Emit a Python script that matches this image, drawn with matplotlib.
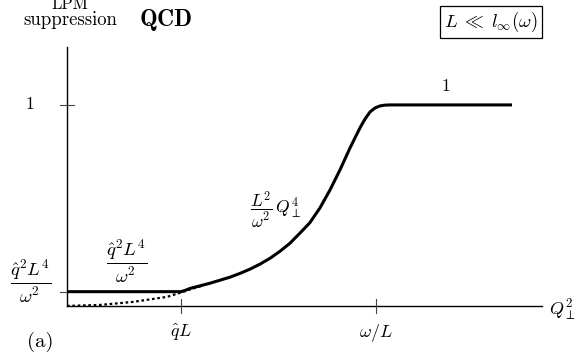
import matplotlib
matplotlib.use("Agg")
from matplotlib import pyplot as plt

plt.rcParams['font.family'] = 'serif'
plt.rcParams['font.serif'] = ['cmr10', 'DejaVu Serif']
plt.rcParams['mathtext.fontset'] = 'cm'
plt.rcParams['axes.unicode_minus'] = False

# solid curve (LPM suppression vs Q_perp^2)
curve_x = [0.0, 0.5, 1.0, 1.14, 1.18, 1.23, 1.33, 1.43, 1.53, 1.63, 1.73, 1.83,
           1.93, 2.03, 2.13, 2.23, 2.36, 2.43, 2.53, 2.63, 2.73, 2.83, 2.93,
           2.98, 3.03, 3.08, 3.13, 3.18, 3.23, 3.30, 3.80, 4.45]
curve_y = [0.071, 0.071, 0.071, 0.071, 0.077, 0.087, 0.100, 0.113, 0.128,
           0.143, 0.162, 0.183, 0.208, 0.237, 0.272, 0.312, 0.378, 0.415,
           0.488, 0.577, 0.677, 0.786, 0.886, 0.930, 0.965, 0.985, 0.995,
           0.999, 1.0, 1.0, 1.0, 1.0]

# dotted continuation of the Q^4 behaviour at small Q
dot_x = [0.0, 0.33, 0.66, 1.0, 1.13, 1.25, 1.35]
dot_y = [0.0, 0.005, 0.02, 0.045, 0.065, 0.085, 0.100]

y_level = 0.071
x_ticks = [1.14, 3.09]
x_labels = [r'$\hat{q}L$', r'$\omega/L$']

fig = plt.figure(figsize=(5.76, 3.6), dpi=100)
ax = fig.add_axes([0, 0, 1, 1])
ax.set_xlim(-0.67, 5.09)
ax.set_ylim(-0.269, 1.522)
ax.axis('off')

# axes
ax.plot([0, 0], [0, 1.29], color='black', lw=1.0)
ax.plot([0, 4.75], [0, 0], color='black', lw=1.0)

# ticks
ax.plot([-0.07, 0.07], [1.0, 1.0], color='#444444', lw=0.8)
ax.plot([-0.07, 0.0], [y_level, y_level], color='#444444', lw=0.8)
for xt, lab in zip(x_ticks, x_labels):
    ax.plot([xt, xt], [-0.035, 0.035], color='#444444', lw=0.8)
    ax.text(xt, -0.134, lab, ha='center', va='center', fontsize=13)

ax.plot(dot_x, dot_y, color='black', lw=1.6, linestyle=(0, (1.2, 1.2)))
ax.plot(curve_x, curve_y, color='black', lw=2.2, solid_capstyle='butt',
        solid_joinstyle='round')

frac = r'$\dfrac{\hat{q}^2L^4}{\omega^2}$'
ax.text(-0.37, 1.005, '1', ha='center', va='center', fontsize=12.5)
ax.text(3.79, 1.09, '1', ha='center', va='center', fontsize=12.5)
ax.text(-0.36, 0.124, frac, ha='center', va='center', fontsize=13.5)
ax.text(0.60, 0.224, frac, ha='center', va='center', fontsize=13.5)
ax.text(2.09, 0.478, r'$\dfrac{L^2}{\omega^2}\,Q_\perp^4$', ha='center',
        va='center', fontsize=12.5)
ax.text(4.95, -0.02, r'$Q_\perp^2$', ha='center', va='center', fontsize=13)
ax.text(-0.27, -0.179, '(a)', ha='center', va='center', fontsize=15)

ax.text(0.03, 1.478, 'LPM', ha='center', va='baseline', fontsize=12)
ax.text(0.03, 1.398, 'suppression', ha='center', va='baseline', fontsize=13.5)
ax.text(0.99, 1.393, r'$\mathbf{QCD}$', ha='center', va='baseline', fontsize=17)
ax.text(4.24, 1.413, r'$L \;\ll\; l_\infty(\omega)$', ha='center', va='center',
        fontsize=13.5,
        bbox=dict(boxstyle='square,pad=0.22', fc='white', ec='black', lw=0.9))

fig.savefig('out.png', dpi=100)
